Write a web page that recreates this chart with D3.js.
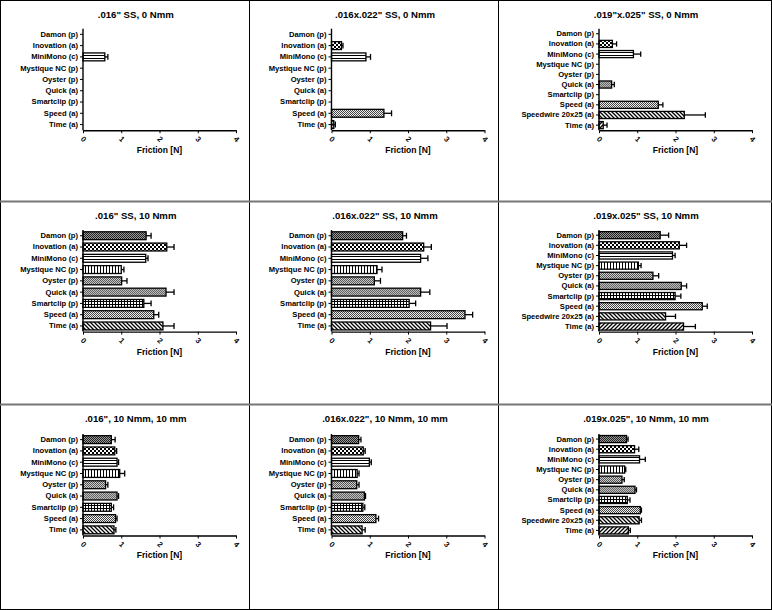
<!DOCTYPE html>
<html>
<head>
<meta charset="utf-8">
<script src="https://cdn.jsdelivr.net/npm/d3@7"></script>
<style>
  html, body { margin: 0; padding: 0; background: #fff; }
  svg { display: block; font-family: "Liberation Sans", Arial, Helvetica, sans-serif; font-weight: bold; }
</style>
</head>
<body>
<svg id="chart" width="772" height="610"></svg>
<script>
// ---------------- DATA ----------------
const panelTitles = [
  '.016" SS, 0 Nmm', '.016x.022" SS, 0 Nmm', '.019"x.025" SS, 0 Nmm',
  '.016" SS, 10 Nmm', '.016x.022" SS, 10 Nmm', '.019x.025" SS, 10 Nmm',
  '.016", 10 Nmm, 10 mm', '.016x.022", 10 Nmm, 10 mm', '.019x.025", 10 Nmm, 10 mm'
];
const cats9 = ["Damon (p)", "Inovation (a)", "MiniMono (c)", "Mystique NC (p)", "Oyster (p)",
               "Quick (a)", "Smartclip (p)", "Speed (a)", "Time (a)"];
const cats10 = ["Damon (p)", "Inovation (a)", "MiniMono (c)", "Mystique NC (p)", "Oyster (p)",
                "Quick (a)", "Smartclip (p)", "Speed (a)", "Speedwire 20x25 (a)", "Time (a)"];
const xTicks = [0, 1, 2, 3, 4];
const axisTitle = "Friction [N]";

// row 1: 0 Nmm
const mean_016_0   = [null, null, 0.57, null, null, null, null, null, null];
const err_016_0    = [null, null, 0.08, null, null, null, null, null, null];
const mean_016x022_0 = [null, 0.26, 0.90, null, null, null, null, 1.37, 0.06];
const err_016x022_0  = [null, 0.04, 0.12, null, null, null, null, 0.20, 0.04];
const mean_019x025_0 = [null, 0.35, 0.90, null, null, 0.33, null, 1.55, 2.23, 0.11];
const err_019x025_0  = [null, 0.11, 0.19, null, null, 0.07, null, 0.12, 0.55, 0.10];
// row 2: 10 Nmm
const mean_016_10  = [1.65, 2.19, 1.64, 1.00, 1.01, 2.17, 1.59, 1.85, 2.09];
const err_016_10   = [0.13, 0.19, 0.06, 0.07, 0.14, 0.21, 0.19, 0.13, 0.29];
const mean_016x022_10 = [1.86, 2.41, 2.33, 1.19, 1.12, 2.33, 2.03, 3.49, 2.59];
const err_016x022_10  = [0.10, 0.20, 0.19, 0.13, 0.16, 0.24, 0.17, 0.20, 0.43];
const mean_019x025_10 = [1.60, 2.10, 1.92, 1.03, 1.41, 2.15, 1.99, 2.70, 1.74, 2.21];
const err_019x025_10  = [0.22, 0.19, 0.07, 0.07, 0.15, 0.14, 0.15, 0.13, 0.26, 0.31];
// row 3: 10 Nmm, 10 mm
const mean_016_10_10  = [0.74, 0.83, 0.89, 0.96, 0.59, 0.89, 0.74, 0.85, 0.81];
const err_016_10_10   = [0.10, 0.05, 0.04, 0.13, 0.06, 0.04, 0.06, 0.04, 0.05];
const mean_016x022_10_10 = [0.71, 0.83, 0.99, 0.67, 0.66, 0.86, 0.82, 1.16, 0.80];
const err_016x022_10_10  = [0.06, 0.05, 0.05, 0.05, 0.06, 0.03, 0.05, 0.07, 0.08];
const mean_019x025_10_10 = [0.72, 0.93, 1.06, 0.67, 0.60, 0.94, 0.74, 1.08, 1.05, 0.77];
const err_019x025_10_10  = [0.04, 0.11, 0.15, 0.03, 0.06, 0.04, 0.07, 0.03, 0.06, 0.05];

const panelCats  = [cats9, cats9, cats10, cats9, cats9, cats10, cats9, cats9, cats10];
const panelMeans = [mean_016_0, mean_016x022_0, mean_019x025_0,
                    mean_016_10, mean_016x022_10, mean_019x025_10,
                    mean_016_10_10, mean_016x022_10_10, mean_019x025_10_10];
const panelErrs  = [err_016_0, err_016x022_0, err_019x025_0,
                    err_016_10, err_016x022_10, err_019x025_10,
                    err_016_10_10, err_016x022_10_10, err_019x025_10_10];

// ---------------- LAYOUT ----------------
const W = 772, H = 610;
const colX = [0, 249.5, 498.5, 771.5];
const rowY = [0, 201.5, 404.5, 609.5];
const plotLeftOff = [83, 82, 100.5];
const plotWidth = 153;
const plotTopOff = [28.7, 28.6, 29.5];
const plotHeight = 101.5;

const svg = d3.select("#chart");
svg.append("rect").attr("width", W).attr("height", H).attr("fill", "#fff");

// ---------------- PATTERNS ----------------
const defs = svg.append("defs");
function pat(id, w, h, build) {
  const p = defs.append("pattern").attr("id", id).attr("patternUnits", "userSpaceOnUse")
    .attr("width", w).attr("height", h);
  p.append("rect").attr("width", w).attr("height", h).attr("fill", "#fff");
  build(p);
}
function checker(p, c, s) {
  p.append("rect").attr("x", 0).attr("y", 0).attr("width", s).attr("height", s).attr("fill", c);
  p.append("rect").attr("x", s).attr("y", s).attr("width", s).attr("height", s).attr("fill", c);
}
pat("p-damon", 2, 2, p => { p.select("rect").attr("fill", "#999"); checker(p, "#222", 1); });
pat("p-inov", 4, 4, p => checker(p, "#000", 2));
pat("p-mini", 3, 3, p => p.append("rect").attr("x", 0).attr("y", 1).attr("width", 3).attr("height", 1).attr("fill", "#000"));
pat("p-myst", 3, 3, p => p.append("rect").attr("x", 1).attr("y", 0).attr("width", 1).attr("height", 3).attr("fill", "#000"));
pat("p-oyster", 2, 2, p => { p.select("rect").attr("fill", "#ccc"); checker(p, "#555", 1); });
pat("p-quick", 2, 2, p => { p.select("rect").attr("fill", "#bbb"); checker(p, "#666", 1); });
pat("p-smart", 3, 3, p => {
  p.append("rect").attr("x", 0).attr("y", 1).attr("width", 3).attr("height", 1).attr("fill", "#000");
  p.append("rect").attr("x", 1).attr("y", 0).attr("width", 1).attr("height", 3).attr("fill", "#000");
});
pat("p-speed", 2, 2, p => { p.select("rect").attr("fill", "#eee"); checker(p, "#444", 1); });
pat("p-back", 4, 4, p => p.append("path").attr("d", "M-1,3 l2,2 M0,0 l4,4 M3,-1 l2,2")
  .attr("stroke", "#000").attr("stroke-width", 1.3));
pat("p-fwd", 4, 4, p => p.append("path").attr("d", "M-1,1 l2,-2 M0,4 l4,-4 M3,5 l2,-2")
  .attr("stroke", "#000").attr("stroke-width", 1.3));

const basePattern = {
  "Damon (p)": "p-damon", "Inovation (a)": "p-inov", "MiniMono (c)": "p-mini",
  "Mystique NC (p)": "p-myst", "Oyster (p)": "p-oyster", "Quick (a)": "p-quick",
  "Smartclip (p)": "p-smart", "Speed (a)": "p-speed", "Speedwire 20x25 (a)": "p-back"
};
function patternFor(cat, cats) {
  if (cat === "Time (a)") return cats.includes("Speedwire 20x25 (a)") ? "p-fwd" : "p-back";
  return basePattern[cat];
}

// ---------------- PANELS ----------------
for (let i = 0; i < 9; i++) {
  const r = Math.floor(i / 3), c = i % 3;
  const cats = panelCats[i], means = panelMeans[i], errs = panelErrs[i];
  const left = colX[c] + plotLeftOff[c];
  const top = rowY[r] + plotTopOff[r];
  const bottom = top + plotHeight;

  const x = d3.scaleLinear().domain([0, 4]).range([left, left + plotWidth]);
  const y = d3.scaleBand().domain(cats).range([top, bottom]).paddingInner(0.3).paddingOuter(0.15);

  const g = svg.append("g");

  // title
  g.append("text").attr("x", (colX[c] + colX[c + 1]) / 2 + 11).attr("y", rowY[r] + 14.5)
    .attr("dy", "0.35em").attr("text-anchor", "middle").attr("font-size", 9.6).text(panelTitles[i]);

  const data = cats.map((k, j) => ({ cat: k, v: means[j], e: errs[j] })).filter(d => d.v != null);

  // error bars (behind bars)
  const eg = g.append("g").attr("stroke", "#000").attr("stroke-width", 1.3);
  data.forEach(d => {
    const cy = y(d.cat) + y.bandwidth() / 2;
    const ch = y.bandwidth() * 0.75;
    eg.append("line").attr("x1", x(d.v)).attr("x2", x(d.v + d.e)).attr("y1", cy).attr("y2", cy);
    eg.append("line").attr("x1", x(d.v + d.e)).attr("x2", x(d.v + d.e))
      .attr("y1", cy - ch / 2).attr("y2", cy + ch / 2);
  });

  // bars
  g.append("g").selectAll("rect").data(data).join("rect")
    .attr("x", x(0)).attr("y", d => y(d.cat))
    .attr("width", d => x(d.v) - x(0)).attr("height", y.bandwidth())
    .attr("fill", d => `url(#${patternFor(d.cat, cats)})`)
    .attr("stroke", "#000").attr("stroke-width", 1.3);

  // y axis
  const ya = g.append("g").attr("transform", `translate(${left},0)`)
    .call(d3.axisLeft(y).tickSize(3).tickPadding(2));
  ya.select(".domain").attr("d", `M0,${top}V${bottom}`).attr("stroke-width", 1.4);
  ya.selectAll(".tick line").attr("stroke-width", 1);
  ya.selectAll("text").attr("font-size", 7.6).attr("font-family", null).attr("font-weight", "bold").attr("fill", "#000");

  // x axis
  const xa = g.append("g").attr("transform", `translate(0,${bottom})`)
    .call(d3.axisBottom(x).tickValues(xTicks).tickFormat(d3.format("d")).tickSize(3).tickSizeOuter(0));
  xa.select(".domain").attr("stroke-width", 1.4);
  xa.selectAll(".tick line").attr("stroke-width", 1);
  xa.selectAll("text").attr("font-size", 7.6).attr("font-family", null).attr("font-weight", "bold")
    .attr("fill", "#000").attr("y", 0).attr("dy", 0)
    .attr("text-anchor", "middle").attr("transform", "translate(0,9) rotate(45)").attr("dominant-baseline", "central");

  // x axis title
  g.append("text").attr("x", left + plotWidth / 2).attr("y", bottom + 20).attr("dy", "0.35em")
    .attr("text-anchor", "middle").attr("font-size", 8.5).text(axisTitle);
}

// ---------------- FRAME ----------------
const frame = svg.append("g");
frame.append("rect").attr("x", 0.5).attr("y", 0.5).attr("width", W - 1).attr("height", H - 1)
  .attr("fill", "none").attr("stroke", "#000").attr("stroke-width", 1);
[colX[1], colX[2]].forEach(xx => frame.append("line").attr("x1", xx).attr("x2", xx)
  .attr("y1", 0).attr("y2", H).attr("stroke", "#000").attr("stroke-width", 1));
[rowY[1], rowY[2]].forEach(yy => frame.append("line").attr("x1", 0).attr("x2", W)
  .attr("y1", yy).attr("y2", yy).attr("stroke", "#777").attr("stroke-width", 2));
</script>
</body>
</html>
